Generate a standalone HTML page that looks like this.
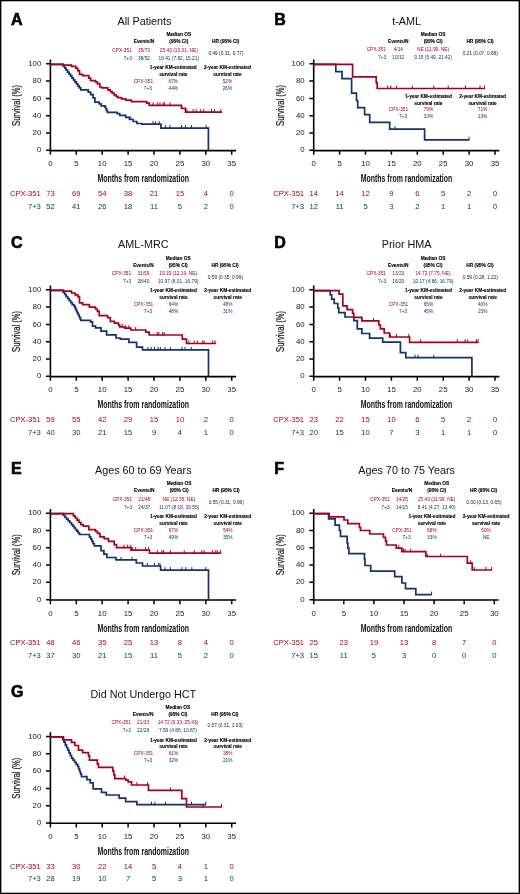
<!DOCTYPE html>
<html><head><meta charset="utf-8"><style>
html,body{margin:0;padding:0;background:#fff;}
body{width:520px;height:894px;overflow:hidden;position:relative;}
svg{position:absolute;left:0;top:0;will-change:transform;}
.frame{position:absolute;left:0;top:0;width:520px;height:894px;box-sizing:border-box;border:1px solid #000;box-shadow:inset 0 0 0 0.6px rgba(0,0,0,0.6);}
</style></head><body>
<svg width="520" height="894" viewBox="0 0 520 894" font-family='"Liberation Sans", sans-serif'>
<text x="10.90" y="24.70" font-size="16" text-anchor="start" fill="#000" font-weight="bold" stroke="#000" stroke-width="0.6">A</text>
<text x="144.50" y="24.80" font-size="10.8" text-anchor="middle" fill="#111" font-weight="normal" >All Patients</text>
<path d="M50.40 59.60 V151.10 M49.60 150.60 H236.10" stroke="#000" stroke-width="1.6" fill="none"/>
<text x="41.30" y="152.40" font-size="7.8" text-anchor="end" fill="#222" font-weight="normal" >0</text>
<text x="41.30" y="135.10" font-size="7.8" text-anchor="end" fill="#222" font-weight="normal" >20</text>
<text x="41.30" y="117.80" font-size="7.8" text-anchor="end" fill="#222" font-weight="normal" >40</text>
<text x="41.30" y="100.50" font-size="7.8" text-anchor="end" fill="#222" font-weight="normal" >60</text>
<text x="41.30" y="83.20" font-size="7.8" text-anchor="end" fill="#222" font-weight="normal" >80</text>
<text x="41.30" y="65.90" font-size="7.8" text-anchor="end" fill="#222" font-weight="normal" >100</text>
<text x="50.40" y="166.20" font-size="7.8" text-anchor="middle" fill="#222" font-weight="normal" >0</text>
<text x="76.30" y="166.20" font-size="7.8" text-anchor="middle" fill="#222" font-weight="normal" >5</text>
<text x="102.20" y="166.20" font-size="7.8" text-anchor="middle" fill="#222" font-weight="normal" >10</text>
<text x="128.10" y="166.20" font-size="7.8" text-anchor="middle" fill="#222" font-weight="normal" >15</text>
<text x="154.00" y="166.20" font-size="7.8" text-anchor="middle" fill="#222" font-weight="normal" >20</text>
<text x="179.90" y="166.20" font-size="7.8" text-anchor="middle" fill="#222" font-weight="normal" >25</text>
<text x="205.80" y="166.20" font-size="7.8" text-anchor="middle" fill="#222" font-weight="normal" >30</text>
<text x="231.70" y="166.20" font-size="7.8" text-anchor="middle" fill="#222" font-weight="normal" >35</text>
<path d="M46.00 150.30 H50.40 M46.00 133.00 H50.40 M46.00 115.70 H50.40 M46.00 98.40 H50.40 M46.00 81.10 H50.40 M46.00 63.80 H50.40 M50.40 150.60 V154.80 M76.30 150.60 V154.80 M102.20 150.60 V154.80 M128.10 150.60 V154.80 M154.00 150.60 V154.80 M179.90 150.60 V154.80 M205.80 150.60 V154.80 M231.70 150.60 V154.80 " stroke="#000" stroke-width="1.5" fill="none"/>
<g transform="translate(20.30 105.45) rotate(-90) scale(0.68 1)"><text x="0" y="0" font-size="11.2" text-anchor="middle" fill="#111" stroke="#111" stroke-width="0.18">Survival (%)</text></g>
<text x="143.20" y="182.30" font-size="11" font-weight="bold" text-anchor="middle" fill="#111" textLength="91.6" lengthAdjust="spacingAndGlyphs">Months from randomization</text>
<text x="40.80" y="195.80" font-size="7.6" text-anchor="end" fill="#a5001f" font-weight="normal" >CPX-351</text>
<text x="40.80" y="208.70" font-size="7.6" text-anchor="end" fill="#15316f" font-weight="normal" >7+3</text>
<text x="50.40" y="195.80" font-size="7.6" text-anchor="middle" fill="#a5001f" font-weight="normal" >73</text>
<text x="76.30" y="195.80" font-size="7.6" text-anchor="middle" fill="#a5001f" font-weight="normal" >69</text>
<text x="102.20" y="195.80" font-size="7.6" text-anchor="middle" fill="#a5001f" font-weight="normal" >54</text>
<text x="128.10" y="195.80" font-size="7.6" text-anchor="middle" fill="#a5001f" font-weight="normal" >38</text>
<text x="154.00" y="195.80" font-size="7.6" text-anchor="middle" fill="#a5001f" font-weight="normal" >21</text>
<text x="179.90" y="195.80" font-size="7.6" text-anchor="middle" fill="#a5001f" font-weight="normal" >15</text>
<text x="205.80" y="195.80" font-size="7.6" text-anchor="middle" fill="#a5001f" font-weight="normal" >4</text>
<text x="231.70" y="195.80" font-size="7.6" text-anchor="middle" fill="#a5001f" font-weight="normal" >0</text>
<text x="50.40" y="208.70" font-size="7.6" text-anchor="middle" fill="#15316f" font-weight="normal" >52</text>
<text x="76.30" y="208.70" font-size="7.6" text-anchor="middle" fill="#15316f" font-weight="normal" >41</text>
<text x="102.20" y="208.70" font-size="7.6" text-anchor="middle" fill="#15316f" font-weight="normal" >26</text>
<text x="128.10" y="208.70" font-size="7.6" text-anchor="middle" fill="#15316f" font-weight="normal" >18</text>
<text x="154.00" y="208.70" font-size="7.6" text-anchor="middle" fill="#15316f" font-weight="normal" >11</text>
<text x="179.90" y="208.70" font-size="7.6" text-anchor="middle" fill="#15316f" font-weight="normal" >5</text>
<text x="205.80" y="208.70" font-size="7.6" text-anchor="middle" fill="#15316f" font-weight="normal" >2</text>
<text x="231.70" y="208.70" font-size="7.6" text-anchor="middle" fill="#15316f" font-weight="normal" >0</text>
<text x="178.80" y="36.00" font-size="4.8" text-anchor="middle" fill="#000" font-weight="bold" stroke="#000" stroke-width="0.12">Median OS</text>
<text x="144.00" y="43.00" font-size="4.8" text-anchor="middle" fill="#000" font-weight="bold" stroke="#000" stroke-width="0.12">Events/N</text>
<text x="178.80" y="43.00" font-size="4.8" text-anchor="middle" fill="#000" font-weight="bold" stroke="#000" stroke-width="0.12">(95% CI)</text>
<text x="225.70" y="43.00" font-size="4.8" text-anchor="middle" fill="#000" font-weight="bold" stroke="#000" stroke-width="0.12">HR (95% CI)</text>
<text x="131.80" y="51.50" font-size="4.8" text-anchor="end" fill="#a5001f" font-weight="normal" >CPX-351</text>
<text x="131.80" y="59.60" font-size="4.8" text-anchor="end" fill="#15316f" font-weight="normal" >7+3</text>
<text x="144.00" y="51.50" font-size="4.8" text-anchor="middle" fill="#a5001f" font-weight="normal" >35/73</text>
<text x="144.00" y="59.60" font-size="4.8" text-anchor="middle" fill="#15316f" font-weight="normal" >38/52</text>
<text x="178.80" y="51.50" font-size="4.8" text-anchor="middle" fill="#a5001f" font-weight="normal" >25.43 (13.01, NE)</text>
<text x="178.80" y="59.60" font-size="4.8" text-anchor="middle" fill="#15316f" font-weight="normal" >10.41 (7.82, 15.21)</text>
<text x="226.00" y="54.80" font-size="4.8" text-anchor="middle" fill="#222" font-weight="normal" >0.49 (0.31, 0.77)</text>
<text x="173.30" y="69.00" font-size="4.8" text-anchor="middle" fill="#000" font-weight="bold" stroke="#000" stroke-width="0.12">1-year KM-estimated</text>
<text x="173.30" y="75.90" font-size="4.8" text-anchor="middle" fill="#000" font-weight="bold" stroke="#000" stroke-width="0.12">survival rate</text>
<text x="227.50" y="69.00" font-size="4.8" text-anchor="middle" fill="#000" font-weight="bold" stroke="#000" stroke-width="0.12">2-year KM-estimated</text>
<text x="227.50" y="75.90" font-size="4.8" text-anchor="middle" fill="#000" font-weight="bold" stroke="#000" stroke-width="0.12">survival rate</text>
<text x="153.10" y="82.80" font-size="4.8" text-anchor="end" fill="#a5001f" font-weight="normal" >CPX-351</text>
<text x="152.00" y="89.80" font-size="4.8" text-anchor="end" fill="#15316f" font-weight="normal" >7+3</text>
<text x="173.30" y="82.80" font-size="4.8" text-anchor="middle" fill="#a5001f" font-weight="normal" >67%</text>
<text x="173.30" y="89.80" font-size="4.8" text-anchor="middle" fill="#15316f" font-weight="normal" >44%</text>
<text x="227.50" y="82.80" font-size="4.8" text-anchor="middle" fill="#a5001f" font-weight="normal" >52%</text>
<text x="227.50" y="89.80" font-size="4.8" text-anchor="middle" fill="#15316f" font-weight="normal" >26%</text>
<path d="M50.40 64.30 H61.70 V64.30 H63.17 V66.26 H64.64 V68.22 H66.11 V70.18 H67.58 V72.15 H69.05 V74.11 H70.52 V76.07 H71.98 V78.03 H73.45 V79.99 H74.92 V81.95 H76.39 V83.92 H77.86 V85.88 H79.33 V87.84 H80.80 V89.80 H88.20 V92.20 H90.60 V94.70 H93.10 V97.80 H94.90 V102.10 H99.20 V103.90 H101.10 V105.80 H104.90 V106.90 H105.73 V108.73 H106.57 V110.57 H107.40 V112.40 H117.20 V113.60 H119.70 V115.40 H125.80 V117.30 H129.50 V119.50 H133.20 V121.50 H136.90 V123.50 H141.80 V124.20 H160.90 V128.10 H208.40 V150.70" stroke="#15316f" stroke-width="1.7" fill="none" stroke-linecap="butt"/>
<path d="M130.80 120.00 V116.50 M153.00 124.70 V121.20 M155.40 124.70 V121.20 M159.20 124.70 V121.20 M165.40 128.60 V125.10 M170.00 128.60 V125.10 M181.50 128.60 V125.10 M185.40 128.60 V125.10 M191.50 128.60 V125.10 M206.20 128.60 V125.10 " stroke="#15316f" stroke-width="1" fill="none"/>
<path d="M50.40 64.30 H63.50 V65.20 H71.50 V66.40 H75.80 V68.20 H77.70 V70.70 H79.50 V74.40 H82.60 V75.60 H88.80 V78.10 H90.60 V80.60 H95.50 V81.80 H97.30 V83.60 H99.80 V87.00 H101.70 V87.90 H107.80 V89.80 H110.30 V91.60 H112.20 V93.20 H114.10 V94.80 H116.00 V96.40 H117.80 V97.60 H121.50 V98.90 H125.80 V100.10 H131.40 V101.60 H146.80 V103.20 H149.20 V105.30 H181.50 V108.40 H185.50 V112.10 H222.00 V112.10" stroke="#a5001f" stroke-width="1.7" fill="none" stroke-linecap="butt"/>
<path d="M153.10 105.80 V102.30 M157.70 105.80 V102.30 M160.00 105.80 V102.30 M163.10 105.80 V102.30 M164.60 105.80 V102.30 M170.00 105.80 V102.30 M186.90 112.60 V109.10 M193.10 112.60 V109.10 M196.20 112.60 V109.10 M200.80 112.60 V109.10 M203.80 112.60 V109.10 M211.50 112.60 V109.10 M214.60 112.60 V109.10 M220.80 112.60 V109.10 " stroke="#a5001f" stroke-width="1" fill="none"/>
<text x="274.20" y="24.70" font-size="16" text-anchor="start" fill="#000" font-weight="bold" stroke="#000" stroke-width="0.6">B</text>
<text x="406.60" y="24.80" font-size="10.8" text-anchor="middle" fill="#111" font-weight="normal" >t-AML</text>
<path d="M313.70 59.60 V151.10 M312.90 150.60 H499.40" stroke="#000" stroke-width="1.6" fill="none"/>
<text x="304.60" y="152.40" font-size="7.8" text-anchor="end" fill="#222" font-weight="normal" >0</text>
<text x="304.60" y="135.10" font-size="7.8" text-anchor="end" fill="#222" font-weight="normal" >20</text>
<text x="304.60" y="117.80" font-size="7.8" text-anchor="end" fill="#222" font-weight="normal" >40</text>
<text x="304.60" y="100.50" font-size="7.8" text-anchor="end" fill="#222" font-weight="normal" >60</text>
<text x="304.60" y="83.20" font-size="7.8" text-anchor="end" fill="#222" font-weight="normal" >80</text>
<text x="304.60" y="65.90" font-size="7.8" text-anchor="end" fill="#222" font-weight="normal" >100</text>
<text x="313.70" y="166.20" font-size="7.8" text-anchor="middle" fill="#222" font-weight="normal" >0</text>
<text x="339.60" y="166.20" font-size="7.8" text-anchor="middle" fill="#222" font-weight="normal" >5</text>
<text x="365.50" y="166.20" font-size="7.8" text-anchor="middle" fill="#222" font-weight="normal" >10</text>
<text x="391.40" y="166.20" font-size="7.8" text-anchor="middle" fill="#222" font-weight="normal" >15</text>
<text x="417.30" y="166.20" font-size="7.8" text-anchor="middle" fill="#222" font-weight="normal" >20</text>
<text x="443.20" y="166.20" font-size="7.8" text-anchor="middle" fill="#222" font-weight="normal" >25</text>
<text x="469.10" y="166.20" font-size="7.8" text-anchor="middle" fill="#222" font-weight="normal" >30</text>
<text x="495.00" y="166.20" font-size="7.8" text-anchor="middle" fill="#222" font-weight="normal" >35</text>
<path d="M309.30 150.30 H313.70 M309.30 133.00 H313.70 M309.30 115.70 H313.70 M309.30 98.40 H313.70 M309.30 81.10 H313.70 M309.30 63.80 H313.70 M313.70 150.60 V154.80 M339.60 150.60 V154.80 M365.50 150.60 V154.80 M391.40 150.60 V154.80 M417.30 150.60 V154.80 M443.20 150.60 V154.80 M469.10 150.60 V154.80 M495.00 150.60 V154.80 " stroke="#000" stroke-width="1.5" fill="none"/>
<g transform="translate(283.60 105.45) rotate(-90) scale(0.68 1)"><text x="0" y="0" font-size="11.2" text-anchor="middle" fill="#111" stroke="#111" stroke-width="0.18">Survival (%)</text></g>
<text x="406.50" y="182.30" font-size="11" font-weight="bold" text-anchor="middle" fill="#111" textLength="91.6" lengthAdjust="spacingAndGlyphs">Months from randomization</text>
<text x="304.10" y="195.80" font-size="7.6" text-anchor="end" fill="#a5001f" font-weight="normal" >CPX-351</text>
<text x="304.10" y="208.70" font-size="7.6" text-anchor="end" fill="#15316f" font-weight="normal" >7+3</text>
<text x="313.70" y="195.80" font-size="7.6" text-anchor="middle" fill="#a5001f" font-weight="normal" >14</text>
<text x="339.60" y="195.80" font-size="7.6" text-anchor="middle" fill="#a5001f" font-weight="normal" >14</text>
<text x="365.50" y="195.80" font-size="7.6" text-anchor="middle" fill="#a5001f" font-weight="normal" >12</text>
<text x="391.40" y="195.80" font-size="7.6" text-anchor="middle" fill="#a5001f" font-weight="normal" >9</text>
<text x="417.30" y="195.80" font-size="7.6" text-anchor="middle" fill="#a5001f" font-weight="normal" >6</text>
<text x="443.20" y="195.80" font-size="7.6" text-anchor="middle" fill="#a5001f" font-weight="normal" >5</text>
<text x="469.10" y="195.80" font-size="7.6" text-anchor="middle" fill="#a5001f" font-weight="normal" >2</text>
<text x="495.00" y="195.80" font-size="7.6" text-anchor="middle" fill="#a5001f" font-weight="normal" >0</text>
<text x="313.70" y="208.70" font-size="7.6" text-anchor="middle" fill="#15316f" font-weight="normal" >12</text>
<text x="339.60" y="208.70" font-size="7.6" text-anchor="middle" fill="#15316f" font-weight="normal" >11</text>
<text x="365.50" y="208.70" font-size="7.6" text-anchor="middle" fill="#15316f" font-weight="normal" >5</text>
<text x="391.40" y="208.70" font-size="7.6" text-anchor="middle" fill="#15316f" font-weight="normal" >3</text>
<text x="417.30" y="208.70" font-size="7.6" text-anchor="middle" fill="#15316f" font-weight="normal" >2</text>
<text x="443.20" y="208.70" font-size="7.6" text-anchor="middle" fill="#15316f" font-weight="normal" >1</text>
<text x="469.10" y="208.70" font-size="7.6" text-anchor="middle" fill="#15316f" font-weight="normal" >1</text>
<text x="495.00" y="208.70" font-size="7.6" text-anchor="middle" fill="#15316f" font-weight="normal" >0</text>
<text x="433.10" y="35.70" font-size="4.8" text-anchor="middle" fill="#000" font-weight="bold" stroke="#000" stroke-width="0.12">Median OS</text>
<text x="398.30" y="42.70" font-size="4.8" text-anchor="middle" fill="#000" font-weight="bold" stroke="#000" stroke-width="0.12">Events/N</text>
<text x="433.10" y="42.70" font-size="4.8" text-anchor="middle" fill="#000" font-weight="bold" stroke="#000" stroke-width="0.12">(95% CI)</text>
<text x="480.00" y="42.70" font-size="4.8" text-anchor="middle" fill="#000" font-weight="bold" stroke="#000" stroke-width="0.12">HR (95% CI)</text>
<text x="386.10" y="51.20" font-size="4.8" text-anchor="end" fill="#a5001f" font-weight="normal" >CPX-351</text>
<text x="386.10" y="59.30" font-size="4.8" text-anchor="end" fill="#15316f" font-weight="normal" >7+3</text>
<text x="398.30" y="51.20" font-size="4.8" text-anchor="middle" fill="#a5001f" font-weight="normal" >4/14</text>
<text x="398.30" y="59.30" font-size="4.8" text-anchor="middle" fill="#15316f" font-weight="normal" >10/12</text>
<text x="433.10" y="51.20" font-size="4.8" text-anchor="middle" fill="#a5001f" font-weight="normal" >NE (11.99, NE)</text>
<text x="433.10" y="59.30" font-size="4.8" text-anchor="middle" fill="#15316f" font-weight="normal" >9.15 (5.49, 21.42)</text>
<text x="480.30" y="54.50" font-size="4.8" text-anchor="middle" fill="#222" font-weight="normal" >0.21 (0.07, 0.68)</text>
<text x="428.40" y="97.60" font-size="4.8" text-anchor="middle" fill="#000" font-weight="bold" stroke="#000" stroke-width="0.12">1-year KM-estimated</text>
<text x="428.40" y="104.50" font-size="4.8" text-anchor="middle" fill="#000" font-weight="bold" stroke="#000" stroke-width="0.12">survival rate</text>
<text x="482.60" y="97.60" font-size="4.8" text-anchor="middle" fill="#000" font-weight="bold" stroke="#000" stroke-width="0.12">2-year KM-estimated</text>
<text x="482.60" y="104.50" font-size="4.8" text-anchor="middle" fill="#000" font-weight="bold" stroke="#000" stroke-width="0.12">survival rate</text>
<text x="408.20" y="111.40" font-size="4.8" text-anchor="end" fill="#a5001f" font-weight="normal" >CPX-351</text>
<text x="407.10" y="118.40" font-size="4.8" text-anchor="end" fill="#15316f" font-weight="normal" >7+3</text>
<text x="428.40" y="111.40" font-size="4.8" text-anchor="middle" fill="#a5001f" font-weight="normal" >79%</text>
<text x="428.40" y="118.40" font-size="4.8" text-anchor="middle" fill="#15316f" font-weight="normal" >33%</text>
<text x="482.60" y="111.40" font-size="4.8" text-anchor="middle" fill="#a5001f" font-weight="normal" >71%</text>
<text x="482.60" y="118.40" font-size="4.8" text-anchor="middle" fill="#15316f" font-weight="normal" >13%</text>
<path d="M313.70 64.40 H335.80 V71.60 H342.00 V78.60 H351.60 V93.20 H356.50 V100.50 H357.70 V107.70 H364.60 V114.60 H369.70 V122.30 H389.70 V129.10 H424.60 V139.80 H469.20 V139.80" stroke="#15316f" stroke-width="1.7" fill="none" stroke-linecap="butt"/>
<path d="M394.90 129.60 V126.10 M469.00 140.30 V136.80 " stroke="#15316f" stroke-width="1" fill="none"/>
<path d="M313.70 64.40 H352.60 V76.80 H376.20 V82.70 H377.20 V88.50 H484.90 V88.50" stroke="#a5001f" stroke-width="1.7" fill="none" stroke-linecap="butt"/>
<path d="M387.70 89.00 V85.50 M390.80 89.00 V85.50 M396.60 89.00 V85.50 M412.30 89.00 V85.50 M433.80 89.00 V85.50 M448.20 89.00 V85.50 M465.40 89.00 V85.50 M480.00 89.00 V85.50 M484.60 89.00 V85.50 " stroke="#a5001f" stroke-width="1" fill="none"/>
<text x="10.90" y="248.30" font-size="16" text-anchor="start" fill="#000" font-weight="bold" stroke="#000" stroke-width="0.6">C</text>
<text x="143.30" y="248.40" font-size="10.8" text-anchor="middle" fill="#111" font-weight="normal" >AML-MRC</text>
<path d="M50.40 285.60 V377.10 M49.60 376.60 H236.10" stroke="#000" stroke-width="1.6" fill="none"/>
<text x="41.30" y="378.40" font-size="7.8" text-anchor="end" fill="#222" font-weight="normal" >0</text>
<text x="41.30" y="361.10" font-size="7.8" text-anchor="end" fill="#222" font-weight="normal" >20</text>
<text x="41.30" y="343.80" font-size="7.8" text-anchor="end" fill="#222" font-weight="normal" >40</text>
<text x="41.30" y="326.50" font-size="7.8" text-anchor="end" fill="#222" font-weight="normal" >60</text>
<text x="41.30" y="309.20" font-size="7.8" text-anchor="end" fill="#222" font-weight="normal" >80</text>
<text x="41.30" y="291.90" font-size="7.8" text-anchor="end" fill="#222" font-weight="normal" >100</text>
<text x="50.40" y="392.20" font-size="7.8" text-anchor="middle" fill="#222" font-weight="normal" >0</text>
<text x="76.30" y="392.20" font-size="7.8" text-anchor="middle" fill="#222" font-weight="normal" >5</text>
<text x="102.20" y="392.20" font-size="7.8" text-anchor="middle" fill="#222" font-weight="normal" >10</text>
<text x="128.10" y="392.20" font-size="7.8" text-anchor="middle" fill="#222" font-weight="normal" >15</text>
<text x="154.00" y="392.20" font-size="7.8" text-anchor="middle" fill="#222" font-weight="normal" >20</text>
<text x="179.90" y="392.20" font-size="7.8" text-anchor="middle" fill="#222" font-weight="normal" >25</text>
<text x="205.80" y="392.20" font-size="7.8" text-anchor="middle" fill="#222" font-weight="normal" >30</text>
<text x="231.70" y="392.20" font-size="7.8" text-anchor="middle" fill="#222" font-weight="normal" >35</text>
<path d="M46.00 376.30 H50.40 M46.00 359.00 H50.40 M46.00 341.70 H50.40 M46.00 324.40 H50.40 M46.00 307.10 H50.40 M46.00 289.80 H50.40 M50.40 376.60 V380.80 M76.30 376.60 V380.80 M102.20 376.60 V380.80 M128.10 376.60 V380.80 M154.00 376.60 V380.80 M179.90 376.60 V380.80 M205.80 376.60 V380.80 M231.70 376.60 V380.80 " stroke="#000" stroke-width="1.5" fill="none"/>
<g transform="translate(20.30 331.45) rotate(-90) scale(0.68 1)"><text x="0" y="0" font-size="11.2" text-anchor="middle" fill="#111" stroke="#111" stroke-width="0.18">Survival (%)</text></g>
<text x="143.20" y="408.30" font-size="11" font-weight="bold" text-anchor="middle" fill="#111" textLength="91.6" lengthAdjust="spacingAndGlyphs">Months from randomization</text>
<text x="40.80" y="421.80" font-size="7.6" text-anchor="end" fill="#a5001f" font-weight="normal" >CPX-351</text>
<text x="40.80" y="434.70" font-size="7.6" text-anchor="end" fill="#15316f" font-weight="normal" >7+3</text>
<text x="50.40" y="421.80" font-size="7.6" text-anchor="middle" fill="#a5001f" font-weight="normal" >59</text>
<text x="76.30" y="421.80" font-size="7.6" text-anchor="middle" fill="#a5001f" font-weight="normal" >55</text>
<text x="102.20" y="421.80" font-size="7.6" text-anchor="middle" fill="#a5001f" font-weight="normal" >42</text>
<text x="128.10" y="421.80" font-size="7.6" text-anchor="middle" fill="#a5001f" font-weight="normal" >29</text>
<text x="154.00" y="421.80" font-size="7.6" text-anchor="middle" fill="#a5001f" font-weight="normal" >15</text>
<text x="179.90" y="421.80" font-size="7.6" text-anchor="middle" fill="#a5001f" font-weight="normal" >10</text>
<text x="205.80" y="421.80" font-size="7.6" text-anchor="middle" fill="#a5001f" font-weight="normal" >2</text>
<text x="231.70" y="421.80" font-size="7.6" text-anchor="middle" fill="#a5001f" font-weight="normal" >0</text>
<text x="50.40" y="434.70" font-size="7.6" text-anchor="middle" fill="#15316f" font-weight="normal" >40</text>
<text x="76.30" y="434.70" font-size="7.6" text-anchor="middle" fill="#15316f" font-weight="normal" >30</text>
<text x="102.20" y="434.70" font-size="7.6" text-anchor="middle" fill="#15316f" font-weight="normal" >21</text>
<text x="128.10" y="434.70" font-size="7.6" text-anchor="middle" fill="#15316f" font-weight="normal" >15</text>
<text x="154.00" y="434.70" font-size="7.6" text-anchor="middle" fill="#15316f" font-weight="normal" >9</text>
<text x="179.90" y="434.70" font-size="7.6" text-anchor="middle" fill="#15316f" font-weight="normal" >4</text>
<text x="205.80" y="434.70" font-size="7.6" text-anchor="middle" fill="#15316f" font-weight="normal" >1</text>
<text x="231.70" y="434.70" font-size="7.6" text-anchor="middle" fill="#15316f" font-weight="normal" >0</text>
<text x="178.20" y="259.80" font-size="4.8" text-anchor="middle" fill="#000" font-weight="bold" stroke="#000" stroke-width="0.12">Median OS</text>
<text x="143.40" y="266.80" font-size="4.8" text-anchor="middle" fill="#000" font-weight="bold" stroke="#000" stroke-width="0.12">Events/N</text>
<text x="178.20" y="266.80" font-size="4.8" text-anchor="middle" fill="#000" font-weight="bold" stroke="#000" stroke-width="0.12">(95% CI)</text>
<text x="225.10" y="266.80" font-size="4.8" text-anchor="middle" fill="#000" font-weight="bold" stroke="#000" stroke-width="0.12">HR (95% CI)</text>
<text x="131.20" y="275.30" font-size="4.8" text-anchor="end" fill="#a5001f" font-weight="normal" >CPX-351</text>
<text x="131.20" y="283.40" font-size="4.8" text-anchor="end" fill="#15316f" font-weight="normal" >7+3</text>
<text x="143.40" y="275.30" font-size="4.8" text-anchor="middle" fill="#a5001f" font-weight="normal" >31/59</text>
<text x="143.40" y="283.40" font-size="4.8" text-anchor="middle" fill="#15316f" font-weight="normal" >28/40</text>
<text x="178.20" y="275.30" font-size="4.8" text-anchor="middle" fill="#a5001f" font-weight="normal" >19.15 (12.19, NE)</text>
<text x="178.20" y="283.40" font-size="4.8" text-anchor="middle" fill="#15316f" font-weight="normal" >10.97 (8.01, 16.79)</text>
<text x="225.40" y="278.60" font-size="4.8" text-anchor="middle" fill="#222" font-weight="normal" >0.59 (0.35, 0.99)</text>
<text x="173.50" y="292.00" font-size="4.8" text-anchor="middle" fill="#000" font-weight="bold" stroke="#000" stroke-width="0.12">1-year KM-estimated</text>
<text x="173.50" y="298.90" font-size="4.8" text-anchor="middle" fill="#000" font-weight="bold" stroke="#000" stroke-width="0.12">survival rate</text>
<text x="227.70" y="292.00" font-size="4.8" text-anchor="middle" fill="#000" font-weight="bold" stroke="#000" stroke-width="0.12">2-year KM-estimated</text>
<text x="227.70" y="298.90" font-size="4.8" text-anchor="middle" fill="#000" font-weight="bold" stroke="#000" stroke-width="0.12">survival rate</text>
<text x="153.30" y="305.80" font-size="4.8" text-anchor="end" fill="#a5001f" font-weight="normal" >CPX-351</text>
<text x="152.20" y="312.80" font-size="4.8" text-anchor="end" fill="#15316f" font-weight="normal" >7+3</text>
<text x="173.50" y="305.80" font-size="4.8" text-anchor="middle" fill="#a5001f" font-weight="normal" >64%</text>
<text x="173.50" y="312.80" font-size="4.8" text-anchor="middle" fill="#15316f" font-weight="normal" >48%</text>
<text x="227.70" y="305.80" font-size="4.8" text-anchor="middle" fill="#a5001f" font-weight="normal" >48%</text>
<text x="227.70" y="312.80" font-size="4.8" text-anchor="middle" fill="#15316f" font-weight="normal" >31%</text>
<path d="M50.40 290.40 H61.70 V290.40 H63.20 V292.44 H64.70 V294.49 H66.20 V296.53 H67.70 V298.57 H69.20 V300.61 H70.70 V302.66 H72.20 V304.70 H74.00 V305.90 H74.85 V307.71 H75.70 V309.52 H76.55 V311.34 H77.40 V313.15 H78.25 V314.96 H79.10 V316.77 H79.95 V318.59 H80.80 V320.40 H90.60 V321.90 H92.50 V326.20 H95.50 V327.90 H101.00 V331.20 H106.60 V334.90 H116.00 V338.00 H120.30 V339.20 H128.90 V342.30 H136.60 V347.20 H142.50 V349.90 H208.50 V376.60" stroke="#15316f" stroke-width="1.7" fill="none" stroke-linecap="butt"/>
<path d="M148.00 350.40 V346.90 M151.10 350.40 V346.90 M154.50 350.40 V346.90 M158.10 350.40 V346.90 M160.40 350.40 V346.90 M165.00 350.40 V346.90 M170.40 350.40 V346.90 M181.90 350.40 V346.90 M185.00 350.40 V346.90 M191.20 350.40 V346.90 " stroke="#15316f" stroke-width="1" fill="none"/>
<path d="M50.40 290.40 H63.50 V291.20 H71.50 V293.00 H75.20 V294.90 H77.70 V296.70 H79.50 V302.90 H82.60 V304.70 H89.40 V307.20 H95.50 V309.00 H97.40 V311.40 H99.20 V315.70 H107.60 V317.60 H110.30 V321.30 H114.40 V323.20 H118.50 V325.10 H119.70 V326.90 H124.60 V328.20 H130.80 V330.00 H145.80 V332.20 H149.20 V335.00 H182.30 V339.20 H186.50 V343.50 H215.80 V343.50" stroke="#a5001f" stroke-width="1.7" fill="none" stroke-linecap="butt"/>
<path d="M122.20 327.40 V323.90 M125.80 328.70 V325.20 M128.90 328.70 V325.20 M135.70 330.50 V327.00 M157.30 335.50 V332.00 M158.80 335.50 V332.00 M162.70 335.50 V332.00 M164.20 335.50 V332.00 M188.80 344.00 V340.50 M194.20 344.00 V340.50 M197.30 344.00 V340.50 M202.70 344.00 V340.50 M204.20 344.00 V340.50 M212.70 344.00 V340.50 M215.00 344.00 V340.50 " stroke="#a5001f" stroke-width="1" fill="none"/>
<text x="274.20" y="248.30" font-size="16" text-anchor="start" fill="#000" font-weight="bold" stroke="#000" stroke-width="0.6">D</text>
<text x="406.60" y="248.40" font-size="10.8" text-anchor="middle" fill="#111" font-weight="normal" >Prior HMA</text>
<path d="M313.70 285.60 V377.10 M312.90 376.60 H499.40" stroke="#000" stroke-width="1.6" fill="none"/>
<text x="304.60" y="378.40" font-size="7.8" text-anchor="end" fill="#222" font-weight="normal" >0</text>
<text x="304.60" y="361.10" font-size="7.8" text-anchor="end" fill="#222" font-weight="normal" >20</text>
<text x="304.60" y="343.80" font-size="7.8" text-anchor="end" fill="#222" font-weight="normal" >40</text>
<text x="304.60" y="326.50" font-size="7.8" text-anchor="end" fill="#222" font-weight="normal" >60</text>
<text x="304.60" y="309.20" font-size="7.8" text-anchor="end" fill="#222" font-weight="normal" >80</text>
<text x="304.60" y="291.90" font-size="7.8" text-anchor="end" fill="#222" font-weight="normal" >100</text>
<text x="313.70" y="392.20" font-size="7.8" text-anchor="middle" fill="#222" font-weight="normal" >0</text>
<text x="339.60" y="392.20" font-size="7.8" text-anchor="middle" fill="#222" font-weight="normal" >5</text>
<text x="365.50" y="392.20" font-size="7.8" text-anchor="middle" fill="#222" font-weight="normal" >10</text>
<text x="391.40" y="392.20" font-size="7.8" text-anchor="middle" fill="#222" font-weight="normal" >15</text>
<text x="417.30" y="392.20" font-size="7.8" text-anchor="middle" fill="#222" font-weight="normal" >20</text>
<text x="443.20" y="392.20" font-size="7.8" text-anchor="middle" fill="#222" font-weight="normal" >25</text>
<text x="469.10" y="392.20" font-size="7.8" text-anchor="middle" fill="#222" font-weight="normal" >30</text>
<text x="495.00" y="392.20" font-size="7.8" text-anchor="middle" fill="#222" font-weight="normal" >35</text>
<path d="M309.30 376.30 H313.70 M309.30 359.00 H313.70 M309.30 341.70 H313.70 M309.30 324.40 H313.70 M309.30 307.10 H313.70 M309.30 289.80 H313.70 M313.70 376.60 V380.80 M339.60 376.60 V380.80 M365.50 376.60 V380.80 M391.40 376.60 V380.80 M417.30 376.60 V380.80 M443.20 376.60 V380.80 M469.10 376.60 V380.80 M495.00 376.60 V380.80 " stroke="#000" stroke-width="1.5" fill="none"/>
<g transform="translate(283.60 331.45) rotate(-90) scale(0.68 1)"><text x="0" y="0" font-size="11.2" text-anchor="middle" fill="#111" stroke="#111" stroke-width="0.18">Survival (%)</text></g>
<text x="406.50" y="408.30" font-size="11" font-weight="bold" text-anchor="middle" fill="#111" textLength="91.6" lengthAdjust="spacingAndGlyphs">Months from randomization</text>
<text x="304.10" y="421.80" font-size="7.6" text-anchor="end" fill="#a5001f" font-weight="normal" >CPX-351</text>
<text x="304.10" y="434.70" font-size="7.6" text-anchor="end" fill="#15316f" font-weight="normal" >7+3</text>
<text x="313.70" y="421.80" font-size="7.6" text-anchor="middle" fill="#a5001f" font-weight="normal" >23</text>
<text x="339.60" y="421.80" font-size="7.6" text-anchor="middle" fill="#a5001f" font-weight="normal" >22</text>
<text x="365.50" y="421.80" font-size="7.6" text-anchor="middle" fill="#a5001f" font-weight="normal" >15</text>
<text x="391.40" y="421.80" font-size="7.6" text-anchor="middle" fill="#a5001f" font-weight="normal" >10</text>
<text x="417.30" y="421.80" font-size="7.6" text-anchor="middle" fill="#a5001f" font-weight="normal" >6</text>
<text x="443.20" y="421.80" font-size="7.6" text-anchor="middle" fill="#a5001f" font-weight="normal" >5</text>
<text x="469.10" y="421.80" font-size="7.6" text-anchor="middle" fill="#a5001f" font-weight="normal" >2</text>
<text x="495.00" y="421.80" font-size="7.6" text-anchor="middle" fill="#a5001f" font-weight="normal" >0</text>
<text x="313.70" y="434.70" font-size="7.6" text-anchor="middle" fill="#15316f" font-weight="normal" >20</text>
<text x="339.60" y="434.70" font-size="7.6" text-anchor="middle" fill="#15316f" font-weight="normal" >15</text>
<text x="365.50" y="434.70" font-size="7.6" text-anchor="middle" fill="#15316f" font-weight="normal" >10</text>
<text x="391.40" y="434.70" font-size="7.6" text-anchor="middle" fill="#15316f" font-weight="normal" >7</text>
<text x="417.30" y="434.70" font-size="7.6" text-anchor="middle" fill="#15316f" font-weight="normal" >3</text>
<text x="443.20" y="434.70" font-size="7.6" text-anchor="middle" fill="#15316f" font-weight="normal" >1</text>
<text x="469.10" y="434.70" font-size="7.6" text-anchor="middle" fill="#15316f" font-weight="normal" >1</text>
<text x="495.00" y="434.70" font-size="7.6" text-anchor="middle" fill="#15316f" font-weight="normal" >0</text>
<text x="433.05" y="259.80" font-size="4.8" text-anchor="middle" fill="#000" font-weight="bold" stroke="#000" stroke-width="0.12">Median OS</text>
<text x="398.25" y="266.80" font-size="4.8" text-anchor="middle" fill="#000" font-weight="bold" stroke="#000" stroke-width="0.12">Events/N</text>
<text x="433.05" y="266.80" font-size="4.8" text-anchor="middle" fill="#000" font-weight="bold" stroke="#000" stroke-width="0.12">(95% CI)</text>
<text x="479.95" y="266.80" font-size="4.8" text-anchor="middle" fill="#000" font-weight="bold" stroke="#000" stroke-width="0.12">HR (95% CI)</text>
<text x="386.05" y="275.30" font-size="4.8" text-anchor="end" fill="#a5001f" font-weight="normal" >CPX-351</text>
<text x="386.05" y="283.40" font-size="4.8" text-anchor="end" fill="#15316f" font-weight="normal" >7+3</text>
<text x="398.25" y="275.30" font-size="4.8" text-anchor="middle" fill="#a5001f" font-weight="normal" >13/23</text>
<text x="398.25" y="283.40" font-size="4.8" text-anchor="middle" fill="#15316f" font-weight="normal" >16/20</text>
<text x="433.05" y="275.30" font-size="4.8" text-anchor="middle" fill="#a5001f" font-weight="normal" >14.72 (7.75, NE)</text>
<text x="433.05" y="283.40" font-size="4.8" text-anchor="middle" fill="#15316f" font-weight="normal" >10.17 (4.86, 16.79)</text>
<text x="480.25" y="278.60" font-size="4.8" text-anchor="middle" fill="#222" font-weight="normal" >0.59 (0.28, 1.22)</text>
<text x="428.50" y="292.00" font-size="4.8" text-anchor="middle" fill="#000" font-weight="bold" stroke="#000" stroke-width="0.12">1-year KM-estimated</text>
<text x="428.50" y="298.90" font-size="4.8" text-anchor="middle" fill="#000" font-weight="bold" stroke="#000" stroke-width="0.12">survival rate</text>
<text x="482.70" y="292.00" font-size="4.8" text-anchor="middle" fill="#000" font-weight="bold" stroke="#000" stroke-width="0.12">2-year KM-estimated</text>
<text x="482.70" y="298.90" font-size="4.8" text-anchor="middle" fill="#000" font-weight="bold" stroke="#000" stroke-width="0.12">survival rate</text>
<text x="408.30" y="305.80" font-size="4.8" text-anchor="end" fill="#a5001f" font-weight="normal" >CPX-351</text>
<text x="407.20" y="312.80" font-size="4.8" text-anchor="end" fill="#15316f" font-weight="normal" >7+3</text>
<text x="428.50" y="305.80" font-size="4.8" text-anchor="middle" fill="#a5001f" font-weight="normal" >65%</text>
<text x="428.50" y="312.80" font-size="4.8" text-anchor="middle" fill="#15316f" font-weight="normal" >45%</text>
<text x="482.70" y="305.80" font-size="4.8" text-anchor="middle" fill="#a5001f" font-weight="normal" >40%</text>
<text x="482.70" y="312.80" font-size="4.8" text-anchor="middle" fill="#15316f" font-weight="normal" >23%</text>
<path d="M313.70 290.60 H330.20 V294.90 H331.70 V299.20 H334.20 V303.50 H337.80 V307.80 H338.80 V312.70 H345.00 V317.00 H353.80 V320.60 H357.30 V328.90 H361.90 V333.50 H369.60 V338.10 H382.70 V342.20 H400.40 V352.70 H405.80 V357.60 H471.90 V376.80" stroke="#15316f" stroke-width="1.7" fill="none" stroke-linecap="butt"/>
<path d="M415.00 358.10 V354.60 M418.10 358.10 V354.60 M433.80 358.10 V354.60 " stroke="#15316f" stroke-width="1" fill="none"/>
<path d="M313.70 290.60 H339.10 V294.20 H342.80 V305.90 H347.10 V309.60 H352.60 V313.30 H353.80 V317.40 H361.90 V320.90 H378.80 V325.00 H380.40 V328.90 H384.20 V333.00 H389.60 V337.00 H409.60 V342.30 H478.40 V342.30" stroke="#a5001f" stroke-width="1.7" fill="none" stroke-linecap="butt"/>
<path d="M373.50 321.40 V317.90 M390.40 337.50 V334.00 M396.50 337.50 V334.00 M408.80 337.50 V334.00 M420.60 342.80 V339.30 M457.30 342.80 V339.30 M465.00 342.80 V339.30 M467.30 342.80 V339.30 M476.50 342.80 V339.30 M478.10 342.80 V339.30 " stroke="#a5001f" stroke-width="1" fill="none"/>
<text x="10.90" y="474.05" font-size="16" text-anchor="start" fill="#000" font-weight="bold" stroke="#000" stroke-width="0.6">E</text>
<text x="143.30" y="474.15" font-size="10.8" text-anchor="middle" fill="#111" font-weight="normal" >Ages 60 to 69 Years</text>
<path d="M50.40 508.95 V600.45 M49.60 599.95 H236.10" stroke="#000" stroke-width="1.6" fill="none"/>
<text x="41.30" y="601.75" font-size="7.8" text-anchor="end" fill="#222" font-weight="normal" >0</text>
<text x="41.30" y="584.45" font-size="7.8" text-anchor="end" fill="#222" font-weight="normal" >20</text>
<text x="41.30" y="567.15" font-size="7.8" text-anchor="end" fill="#222" font-weight="normal" >40</text>
<text x="41.30" y="549.85" font-size="7.8" text-anchor="end" fill="#222" font-weight="normal" >60</text>
<text x="41.30" y="532.55" font-size="7.8" text-anchor="end" fill="#222" font-weight="normal" >80</text>
<text x="41.30" y="515.25" font-size="7.8" text-anchor="end" fill="#222" font-weight="normal" >100</text>
<text x="50.40" y="615.55" font-size="7.8" text-anchor="middle" fill="#222" font-weight="normal" >0</text>
<text x="76.30" y="615.55" font-size="7.8" text-anchor="middle" fill="#222" font-weight="normal" >5</text>
<text x="102.20" y="615.55" font-size="7.8" text-anchor="middle" fill="#222" font-weight="normal" >10</text>
<text x="128.10" y="615.55" font-size="7.8" text-anchor="middle" fill="#222" font-weight="normal" >15</text>
<text x="154.00" y="615.55" font-size="7.8" text-anchor="middle" fill="#222" font-weight="normal" >20</text>
<text x="179.90" y="615.55" font-size="7.8" text-anchor="middle" fill="#222" font-weight="normal" >25</text>
<text x="205.80" y="615.55" font-size="7.8" text-anchor="middle" fill="#222" font-weight="normal" >30</text>
<text x="231.70" y="615.55" font-size="7.8" text-anchor="middle" fill="#222" font-weight="normal" >35</text>
<path d="M46.00 599.65 H50.40 M46.00 582.35 H50.40 M46.00 565.05 H50.40 M46.00 547.75 H50.40 M46.00 530.45 H50.40 M46.00 513.15 H50.40 M50.40 599.95 V604.15 M76.30 599.95 V604.15 M102.20 599.95 V604.15 M128.10 599.95 V604.15 M154.00 599.95 V604.15 M179.90 599.95 V604.15 M205.80 599.95 V604.15 M231.70 599.95 V604.15 " stroke="#000" stroke-width="1.5" fill="none"/>
<g transform="translate(20.30 554.80) rotate(-90) scale(0.68 1)"><text x="0" y="0" font-size="11.2" text-anchor="middle" fill="#111" stroke="#111" stroke-width="0.18">Survival (%)</text></g>
<text x="143.20" y="631.65" font-size="11" font-weight="bold" text-anchor="middle" fill="#111" textLength="91.6" lengthAdjust="spacingAndGlyphs">Months from randomization</text>
<text x="40.80" y="645.15" font-size="7.6" text-anchor="end" fill="#a5001f" font-weight="normal" >CPX-351</text>
<text x="40.80" y="658.05" font-size="7.6" text-anchor="end" fill="#15316f" font-weight="normal" >7+3</text>
<text x="50.40" y="645.15" font-size="7.6" text-anchor="middle" fill="#a5001f" font-weight="normal" >48</text>
<text x="76.30" y="645.15" font-size="7.6" text-anchor="middle" fill="#a5001f" font-weight="normal" >46</text>
<text x="102.20" y="645.15" font-size="7.6" text-anchor="middle" fill="#a5001f" font-weight="normal" >35</text>
<text x="128.10" y="645.15" font-size="7.6" text-anchor="middle" fill="#a5001f" font-weight="normal" >25</text>
<text x="154.00" y="645.15" font-size="7.6" text-anchor="middle" fill="#a5001f" font-weight="normal" >13</text>
<text x="179.90" y="645.15" font-size="7.6" text-anchor="middle" fill="#a5001f" font-weight="normal" >8</text>
<text x="205.80" y="645.15" font-size="7.6" text-anchor="middle" fill="#a5001f" font-weight="normal" >4</text>
<text x="231.70" y="645.15" font-size="7.6" text-anchor="middle" fill="#a5001f" font-weight="normal" >0</text>
<text x="50.40" y="658.05" font-size="7.6" text-anchor="middle" fill="#15316f" font-weight="normal" >37</text>
<text x="76.30" y="658.05" font-size="7.6" text-anchor="middle" fill="#15316f" font-weight="normal" >30</text>
<text x="102.20" y="658.05" font-size="7.6" text-anchor="middle" fill="#15316f" font-weight="normal" >21</text>
<text x="128.10" y="658.05" font-size="7.6" text-anchor="middle" fill="#15316f" font-weight="normal" >15</text>
<text x="154.00" y="658.05" font-size="7.6" text-anchor="middle" fill="#15316f" font-weight="normal" >11</text>
<text x="179.90" y="658.05" font-size="7.6" text-anchor="middle" fill="#15316f" font-weight="normal" >5</text>
<text x="205.80" y="658.05" font-size="7.6" text-anchor="middle" fill="#15316f" font-weight="normal" >2</text>
<text x="231.70" y="658.05" font-size="7.6" text-anchor="middle" fill="#15316f" font-weight="normal" >0</text>
<text x="179.10" y="485.00" font-size="4.8" text-anchor="middle" fill="#000" font-weight="bold" stroke="#000" stroke-width="0.12">Median OS</text>
<text x="144.30" y="492.00" font-size="4.8" text-anchor="middle" fill="#000" font-weight="bold" stroke="#000" stroke-width="0.12">Events/N</text>
<text x="179.10" y="492.00" font-size="4.8" text-anchor="middle" fill="#000" font-weight="bold" stroke="#000" stroke-width="0.12">(95% CI)</text>
<text x="226.00" y="492.00" font-size="4.8" text-anchor="middle" fill="#000" font-weight="bold" stroke="#000" stroke-width="0.12">HR (95% CI)</text>
<text x="132.10" y="500.50" font-size="4.8" text-anchor="end" fill="#a5001f" font-weight="normal" >CPX-351</text>
<text x="132.10" y="508.60" font-size="4.8" text-anchor="end" fill="#15316f" font-weight="normal" >7+3</text>
<text x="144.30" y="500.50" font-size="4.8" text-anchor="middle" fill="#a5001f" font-weight="normal" >21/48</text>
<text x="144.30" y="508.60" font-size="4.8" text-anchor="middle" fill="#15316f" font-weight="normal" >24/37</text>
<text x="179.10" y="500.50" font-size="4.8" text-anchor="middle" fill="#a5001f" font-weight="normal" >NE (12.35, NE)</text>
<text x="179.10" y="508.60" font-size="4.8" text-anchor="middle" fill="#15316f" font-weight="normal" >11.07 (8.18, 30.55)</text>
<text x="226.30" y="503.80" font-size="4.8" text-anchor="middle" fill="#222" font-weight="normal" >0.55 (0.31, 0.99)</text>
<text x="173.50" y="517.70" font-size="4.8" text-anchor="middle" fill="#000" font-weight="bold" stroke="#000" stroke-width="0.12">1-year KM-estimated</text>
<text x="173.50" y="524.60" font-size="4.8" text-anchor="middle" fill="#000" font-weight="bold" stroke="#000" stroke-width="0.12">survival rate</text>
<text x="227.70" y="517.70" font-size="4.8" text-anchor="middle" fill="#000" font-weight="bold" stroke="#000" stroke-width="0.12">2-year KM-estimated</text>
<text x="227.70" y="524.60" font-size="4.8" text-anchor="middle" fill="#000" font-weight="bold" stroke="#000" stroke-width="0.12">survival rate</text>
<text x="153.30" y="531.50" font-size="4.8" text-anchor="end" fill="#a5001f" font-weight="normal" >CPX-351</text>
<text x="152.20" y="538.50" font-size="4.8" text-anchor="end" fill="#15316f" font-weight="normal" >7+3</text>
<text x="173.50" y="531.50" font-size="4.8" text-anchor="middle" fill="#a5001f" font-weight="normal" >67%</text>
<text x="173.50" y="538.50" font-size="4.8" text-anchor="middle" fill="#15316f" font-weight="normal" >49%</text>
<text x="227.70" y="531.50" font-size="4.8" text-anchor="middle" fill="#a5001f" font-weight="normal" >54%</text>
<text x="227.70" y="538.50" font-size="4.8" text-anchor="middle" fill="#15316f" font-weight="normal" >35%</text>
<path d="M50.40 513.60 H61.70 V513.60 H63.33 V515.43 H64.97 V517.27 H66.60 V519.10 H68.23 V520.93 H69.87 V522.77 H71.50 V524.60 H72.83 V526.25 H74.17 V527.90 H75.50 V529.55 H76.83 V531.20 H78.17 V532.85 H79.50 V534.50 H88.20 V534.50 H89.42 V536.78 H90.64 V539.06 H91.86 V541.34 H93.08 V543.62 H94.30 V545.90 H101.00 V550.60 H103.90 V554.05 H106.80 V557.50 H116.00 V559.90 H136.30 V563.00 H142.50 V566.00 H160.60 V570.10 H208.50 V600.00" stroke="#15316f" stroke-width="1.7" fill="none" stroke-linecap="butt"/>
<path d="M121.00 560.40 V556.90 M132.00 560.40 V556.90 M147.40 566.50 V563.00 M154.50 566.50 V563.00 M158.60 566.50 V563.00 M160.00 566.50 V563.00 M165.00 570.60 V567.10 M170.40 570.60 V567.10 M181.90 570.60 V567.10 M185.80 570.60 V567.10 M191.90 570.60 V567.10 M205.80 570.60 V567.10 " stroke="#15316f" stroke-width="1" fill="none"/>
<path d="M50.40 513.60 H71.50 V513.60 H73.36 V515.80 H75.22 V518.00 H77.08 V520.20 H78.94 V522.40 H80.80 V524.60 H83.20 V526.10 H88.80 V529.60 H95.50 V531.40 H97.50 V533.40 H100.00 V536.90 H104.20 V538.60 H108.50 V541.40 H114.20 V544.60 H116.50 V547.60 H131.00 V550.10 H149.50 V553.10 H221.20 V553.10" stroke="#a5001f" stroke-width="1.7" fill="none" stroke-linecap="butt"/>
<path d="M124.00 548.10 V544.60 M127.70 548.10 V544.60 M130.80 548.10 V544.60 M132.60 550.60 V547.10 M135.70 550.60 V547.10 M145.50 550.60 V547.10 M148.60 550.60 V547.10 M157.30 553.60 V550.10 M161.90 553.60 V550.10 M163.50 553.60 V550.10 M170.40 553.60 V550.10 M184.20 553.60 V550.10 M194.20 553.60 V550.10 M201.90 553.60 V550.10 M204.20 553.60 V550.10 M212.70 553.60 V550.10 M215.80 553.60 V550.10 M217.30 553.60 V550.10 M220.40 553.60 V550.10 " stroke="#a5001f" stroke-width="1" fill="none"/>
<text x="274.20" y="474.05" font-size="16" text-anchor="start" fill="#000" font-weight="bold" stroke="#000" stroke-width="0.6">F</text>
<text x="406.60" y="474.15" font-size="10.8" text-anchor="middle" fill="#111" font-weight="normal" >Ages 70 to 75 Years</text>
<path d="M313.70 508.95 V600.45 M312.90 599.95 H498.70" stroke="#000" stroke-width="1.6" fill="none"/>
<text x="304.60" y="601.75" font-size="7.8" text-anchor="end" fill="#222" font-weight="normal" >0</text>
<text x="304.60" y="584.45" font-size="7.8" text-anchor="end" fill="#222" font-weight="normal" >20</text>
<text x="304.60" y="567.15" font-size="7.8" text-anchor="end" fill="#222" font-weight="normal" >40</text>
<text x="304.60" y="549.85" font-size="7.8" text-anchor="end" fill="#222" font-weight="normal" >60</text>
<text x="304.60" y="532.55" font-size="7.8" text-anchor="end" fill="#222" font-weight="normal" >80</text>
<text x="304.60" y="515.25" font-size="7.8" text-anchor="end" fill="#222" font-weight="normal" >100</text>
<text x="313.70" y="615.55" font-size="7.8" text-anchor="middle" fill="#222" font-weight="normal" >0</text>
<text x="343.80" y="615.55" font-size="7.8" text-anchor="middle" fill="#222" font-weight="normal" >5</text>
<text x="373.90" y="615.55" font-size="7.8" text-anchor="middle" fill="#222" font-weight="normal" >10</text>
<text x="404.00" y="615.55" font-size="7.8" text-anchor="middle" fill="#222" font-weight="normal" >15</text>
<text x="434.10" y="615.55" font-size="7.8" text-anchor="middle" fill="#222" font-weight="normal" >20</text>
<text x="464.20" y="615.55" font-size="7.8" text-anchor="middle" fill="#222" font-weight="normal" >25</text>
<text x="494.30" y="615.55" font-size="7.8" text-anchor="middle" fill="#222" font-weight="normal" >30</text>
<path d="M309.30 599.65 H313.70 M309.30 582.35 H313.70 M309.30 565.05 H313.70 M309.30 547.75 H313.70 M309.30 530.45 H313.70 M309.30 513.15 H313.70 M313.70 599.95 V604.15 M343.80 599.95 V604.15 M373.90 599.95 V604.15 M404.00 599.95 V604.15 M434.10 599.95 V604.15 M464.20 599.95 V604.15 M494.30 599.95 V604.15 " stroke="#000" stroke-width="1.5" fill="none"/>
<g transform="translate(283.60 554.80) rotate(-90) scale(0.68 1)"><text x="0" y="0" font-size="11.2" text-anchor="middle" fill="#111" stroke="#111" stroke-width="0.18">Survival (%)</text></g>
<text x="406.50" y="631.65" font-size="11" font-weight="bold" text-anchor="middle" fill="#111" textLength="91.6" lengthAdjust="spacingAndGlyphs">Months from randomization</text>
<text x="304.10" y="645.15" font-size="7.6" text-anchor="end" fill="#a5001f" font-weight="normal" >CPX-351</text>
<text x="304.10" y="658.05" font-size="7.6" text-anchor="end" fill="#15316f" font-weight="normal" >7+3</text>
<text x="313.70" y="645.15" font-size="7.6" text-anchor="middle" fill="#a5001f" font-weight="normal" >25</text>
<text x="343.80" y="645.15" font-size="7.6" text-anchor="middle" fill="#a5001f" font-weight="normal" >23</text>
<text x="373.90" y="645.15" font-size="7.6" text-anchor="middle" fill="#a5001f" font-weight="normal" >19</text>
<text x="404.00" y="645.15" font-size="7.6" text-anchor="middle" fill="#a5001f" font-weight="normal" >13</text>
<text x="434.10" y="645.15" font-size="7.6" text-anchor="middle" fill="#a5001f" font-weight="normal" >8</text>
<text x="464.20" y="645.15" font-size="7.6" text-anchor="middle" fill="#a5001f" font-weight="normal" >7</text>
<text x="494.30" y="645.15" font-size="7.6" text-anchor="middle" fill="#a5001f" font-weight="normal" >0</text>
<text x="313.70" y="658.05" font-size="7.6" text-anchor="middle" fill="#15316f" font-weight="normal" >15</text>
<text x="343.80" y="658.05" font-size="7.6" text-anchor="middle" fill="#15316f" font-weight="normal" >11</text>
<text x="373.90" y="658.05" font-size="7.6" text-anchor="middle" fill="#15316f" font-weight="normal" >5</text>
<text x="404.00" y="658.05" font-size="7.6" text-anchor="middle" fill="#15316f" font-weight="normal" >3</text>
<text x="434.10" y="658.05" font-size="7.6" text-anchor="middle" fill="#15316f" font-weight="normal" >0</text>
<text x="464.20" y="658.05" font-size="7.6" text-anchor="middle" fill="#15316f" font-weight="normal" >0</text>
<text x="494.30" y="658.05" font-size="7.6" text-anchor="middle" fill="#15316f" font-weight="normal" >0</text>
<text x="436.70" y="485.35" font-size="4.8" text-anchor="middle" fill="#000" font-weight="bold" stroke="#000" stroke-width="0.12">Median OS</text>
<text x="401.90" y="492.35" font-size="4.8" text-anchor="middle" fill="#000" font-weight="bold" stroke="#000" stroke-width="0.12">Events/N</text>
<text x="436.70" y="492.35" font-size="4.8" text-anchor="middle" fill="#000" font-weight="bold" stroke="#000" stroke-width="0.12">(95% CI)</text>
<text x="483.60" y="492.35" font-size="4.8" text-anchor="middle" fill="#000" font-weight="bold" stroke="#000" stroke-width="0.12">HR (95% CI)</text>
<text x="389.70" y="500.85" font-size="4.8" text-anchor="end" fill="#a5001f" font-weight="normal" >CPX-351</text>
<text x="389.70" y="508.95" font-size="4.8" text-anchor="end" fill="#15316f" font-weight="normal" >7+3</text>
<text x="401.90" y="500.85" font-size="4.8" text-anchor="middle" fill="#a5001f" font-weight="normal" >14/25</text>
<text x="401.90" y="508.95" font-size="4.8" text-anchor="middle" fill="#15316f" font-weight="normal" >14/15</text>
<text x="436.70" y="500.85" font-size="4.8" text-anchor="middle" fill="#a5001f" font-weight="normal" >25.43 (11.99, NE)</text>
<text x="436.70" y="508.95" font-size="4.8" text-anchor="middle" fill="#15316f" font-weight="normal" >8.41 (4.27, 13.40)</text>
<text x="483.90" y="504.15" font-size="4.8" text-anchor="middle" fill="#222" font-weight="normal" >0.30 (0.13, 0.65)</text>
<text x="431.90" y="517.70" font-size="4.8" text-anchor="middle" fill="#000" font-weight="bold" stroke="#000" stroke-width="0.12">1-year KM-estimated</text>
<text x="431.90" y="524.60" font-size="4.8" text-anchor="middle" fill="#000" font-weight="bold" stroke="#000" stroke-width="0.12">survival rate</text>
<text x="486.10" y="517.70" font-size="4.8" text-anchor="middle" fill="#000" font-weight="bold" stroke="#000" stroke-width="0.12">2-year KM-estimated</text>
<text x="486.10" y="524.60" font-size="4.8" text-anchor="middle" fill="#000" font-weight="bold" stroke="#000" stroke-width="0.12">survival rate</text>
<text x="411.70" y="531.50" font-size="4.8" text-anchor="end" fill="#a5001f" font-weight="normal" >CPX-351</text>
<text x="410.60" y="538.50" font-size="4.8" text-anchor="end" fill="#15316f" font-weight="normal" >7+3</text>
<text x="431.90" y="531.50" font-size="4.8" text-anchor="middle" fill="#a5001f" font-weight="normal" >68%</text>
<text x="431.90" y="538.50" font-size="4.8" text-anchor="middle" fill="#15316f" font-weight="normal" >33%</text>
<text x="486.10" y="531.50" font-size="4.8" text-anchor="middle" fill="#a5001f" font-weight="normal" >50%</text>
<text x="486.10" y="538.50" font-size="4.8" text-anchor="middle" fill="#15316f" font-weight="normal" >NE</text>
<path d="M313.70 513.60 H328.60 V518.90 H335.10 V525.10 H339.40 V530.50 H340.50 V536.30 H347.10 V542.80 H347.80 V548.20 H348.90 V553.70 H364.50 V559.40 H365.00 V565.50 H370.70 V571.20 H394.70 V576.60 H401.90 V583.00 H405.50 V588.60 H415.80 V594.60 H431.60 V594.60" stroke="#15316f" stroke-width="1.7" fill="none" stroke-linecap="butt"/>
<path d="M431.60 595.10 V591.60 " stroke="#15316f" stroke-width="1" fill="none"/>
<path d="M313.70 513.60 H329.20 V516.90 H344.00 V520.00 H347.80 V523.60 H359.40 V527.40 H360.50 V530.50 H369.70 V534.00 H383.50 V537.40 H385.50 V540.90 H386.50 V545.00 H396.20 V548.10 H401.90 V551.70 H425.80 V556.50 H467.30 V563.10 H472.20 V570.00 H491.90 V570.00" stroke="#a5001f" stroke-width="1.7" fill="none" stroke-linecap="butt"/>
<path d="M398.80 548.60 V545.10 M403.50 552.20 V548.70 M405.00 552.20 V548.70 M410.70 552.20 V548.70 M427.30 557.00 V553.50 M440.40 557.00 V553.50 M470.70 563.60 V560.10 M474.20 570.50 V567.00 M485.80 570.50 V567.00 M491.60 570.50 V567.00 " stroke="#a5001f" stroke-width="1" fill="none"/>
<text x="10.90" y="697.40" font-size="16" text-anchor="start" fill="#000" font-weight="bold" stroke="#000" stroke-width="0.6">G</text>
<text x="143.30" y="697.50" font-size="10.8" text-anchor="middle" fill="#111" font-weight="normal" >Did Not Undergo HCT</text>
<path d="M50.40 732.30 V823.80 M49.60 823.30 H236.10" stroke="#000" stroke-width="1.6" fill="none"/>
<text x="41.30" y="825.10" font-size="7.8" text-anchor="end" fill="#222" font-weight="normal" >0</text>
<text x="41.30" y="807.80" font-size="7.8" text-anchor="end" fill="#222" font-weight="normal" >20</text>
<text x="41.30" y="790.50" font-size="7.8" text-anchor="end" fill="#222" font-weight="normal" >40</text>
<text x="41.30" y="773.20" font-size="7.8" text-anchor="end" fill="#222" font-weight="normal" >60</text>
<text x="41.30" y="755.90" font-size="7.8" text-anchor="end" fill="#222" font-weight="normal" >80</text>
<text x="41.30" y="738.60" font-size="7.8" text-anchor="end" fill="#222" font-weight="normal" >100</text>
<text x="50.40" y="838.90" font-size="7.8" text-anchor="middle" fill="#222" font-weight="normal" >0</text>
<text x="76.30" y="838.90" font-size="7.8" text-anchor="middle" fill="#222" font-weight="normal" >5</text>
<text x="102.20" y="838.90" font-size="7.8" text-anchor="middle" fill="#222" font-weight="normal" >10</text>
<text x="128.10" y="838.90" font-size="7.8" text-anchor="middle" fill="#222" font-weight="normal" >15</text>
<text x="154.00" y="838.90" font-size="7.8" text-anchor="middle" fill="#222" font-weight="normal" >20</text>
<text x="179.90" y="838.90" font-size="7.8" text-anchor="middle" fill="#222" font-weight="normal" >25</text>
<text x="205.80" y="838.90" font-size="7.8" text-anchor="middle" fill="#222" font-weight="normal" >30</text>
<text x="231.70" y="838.90" font-size="7.8" text-anchor="middle" fill="#222" font-weight="normal" >35</text>
<path d="M46.00 823.00 H50.40 M46.00 805.70 H50.40 M46.00 788.40 H50.40 M46.00 771.10 H50.40 M46.00 753.80 H50.40 M46.00 736.50 H50.40 M50.40 823.30 V827.50 M76.30 823.30 V827.50 M102.20 823.30 V827.50 M128.10 823.30 V827.50 M154.00 823.30 V827.50 M179.90 823.30 V827.50 M205.80 823.30 V827.50 M231.70 823.30 V827.50 " stroke="#000" stroke-width="1.5" fill="none"/>
<g transform="translate(20.30 778.15) rotate(-90) scale(0.68 1)"><text x="0" y="0" font-size="11.2" text-anchor="middle" fill="#111" stroke="#111" stroke-width="0.18">Survival (%)</text></g>
<text x="143.20" y="855.00" font-size="11" font-weight="bold" text-anchor="middle" fill="#111" textLength="91.6" lengthAdjust="spacingAndGlyphs">Months from randomization</text>
<text x="40.80" y="868.50" font-size="7.6" text-anchor="end" fill="#a5001f" font-weight="normal" >CPX-351</text>
<text x="40.80" y="881.40" font-size="7.6" text-anchor="end" fill="#15316f" font-weight="normal" >7+3</text>
<text x="50.40" y="868.50" font-size="7.6" text-anchor="middle" fill="#a5001f" font-weight="normal" >33</text>
<text x="76.30" y="868.50" font-size="7.6" text-anchor="middle" fill="#a5001f" font-weight="normal" >30</text>
<text x="102.20" y="868.50" font-size="7.6" text-anchor="middle" fill="#a5001f" font-weight="normal" >22</text>
<text x="128.10" y="868.50" font-size="7.6" text-anchor="middle" fill="#a5001f" font-weight="normal" >14</text>
<text x="154.00" y="868.50" font-size="7.6" text-anchor="middle" fill="#a5001f" font-weight="normal" >5</text>
<text x="179.90" y="868.50" font-size="7.6" text-anchor="middle" fill="#a5001f" font-weight="normal" >4</text>
<text x="205.80" y="868.50" font-size="7.6" text-anchor="middle" fill="#a5001f" font-weight="normal" >1</text>
<text x="231.70" y="868.50" font-size="7.6" text-anchor="middle" fill="#a5001f" font-weight="normal" >0</text>
<text x="50.40" y="881.40" font-size="7.6" text-anchor="middle" fill="#15316f" font-weight="normal" >28</text>
<text x="76.30" y="881.40" font-size="7.6" text-anchor="middle" fill="#15316f" font-weight="normal" >19</text>
<text x="102.20" y="881.40" font-size="7.6" text-anchor="middle" fill="#15316f" font-weight="normal" >10</text>
<text x="128.10" y="881.40" font-size="7.6" text-anchor="middle" fill="#15316f" font-weight="normal" >7</text>
<text x="154.00" y="881.40" font-size="7.6" text-anchor="middle" fill="#15316f" font-weight="normal" >5</text>
<text x="179.90" y="881.40" font-size="7.6" text-anchor="middle" fill="#15316f" font-weight="normal" >3</text>
<text x="205.80" y="881.40" font-size="7.6" text-anchor="middle" fill="#15316f" font-weight="normal" >1</text>
<text x="231.70" y="881.40" font-size="7.6" text-anchor="middle" fill="#15316f" font-weight="normal" >0</text>
<text x="177.90" y="708.50" font-size="4.8" text-anchor="middle" fill="#000" font-weight="bold" stroke="#000" stroke-width="0.12">Median OS</text>
<text x="143.10" y="715.50" font-size="4.8" text-anchor="middle" fill="#000" font-weight="bold" stroke="#000" stroke-width="0.12">Events/N</text>
<text x="177.90" y="715.50" font-size="4.8" text-anchor="middle" fill="#000" font-weight="bold" stroke="#000" stroke-width="0.12">(95% CI)</text>
<text x="224.80" y="715.50" font-size="4.8" text-anchor="middle" fill="#000" font-weight="bold" stroke="#000" stroke-width="0.12">HR (95% CI)</text>
<text x="130.90" y="724.00" font-size="4.8" text-anchor="end" fill="#a5001f" font-weight="normal" >CPX-351</text>
<text x="130.90" y="732.10" font-size="4.8" text-anchor="end" fill="#15316f" font-weight="normal" >7+3</text>
<text x="143.10" y="724.00" font-size="4.8" text-anchor="middle" fill="#a5001f" font-weight="normal" >21/33</text>
<text x="143.10" y="732.10" font-size="4.8" text-anchor="middle" fill="#15316f" font-weight="normal" >22/28</text>
<text x="177.90" y="724.00" font-size="4.8" text-anchor="middle" fill="#a5001f" font-weight="normal" >14.72 (9.33, 25.43)</text>
<text x="177.90" y="732.10" font-size="4.8" text-anchor="middle" fill="#15316f" font-weight="normal" >7.59 (4.86, 10.87)</text>
<text x="225.10" y="727.30" font-size="4.8" text-anchor="middle" fill="#222" font-weight="normal" >0.57 (0.31, 1.03)</text>
<text x="173.50" y="741.50" font-size="4.8" text-anchor="middle" fill="#000" font-weight="bold" stroke="#000" stroke-width="0.12">1-year KM-estimated</text>
<text x="173.50" y="748.40" font-size="4.8" text-anchor="middle" fill="#000" font-weight="bold" stroke="#000" stroke-width="0.12">survival rate</text>
<text x="227.70" y="741.50" font-size="4.8" text-anchor="middle" fill="#000" font-weight="bold" stroke="#000" stroke-width="0.12">2-year KM-estimated</text>
<text x="227.70" y="748.40" font-size="4.8" text-anchor="middle" fill="#000" font-weight="bold" stroke="#000" stroke-width="0.12">survival rate</text>
<text x="153.30" y="755.30" font-size="4.8" text-anchor="end" fill="#a5001f" font-weight="normal" >CPX-351</text>
<text x="152.20" y="762.30" font-size="4.8" text-anchor="end" fill="#15316f" font-weight="normal" >7+3</text>
<text x="173.50" y="755.30" font-size="4.8" text-anchor="middle" fill="#a5001f" font-weight="normal" >61%</text>
<text x="173.50" y="762.30" font-size="4.8" text-anchor="middle" fill="#15316f" font-weight="normal" >32%</text>
<text x="227.70" y="755.30" font-size="4.8" text-anchor="middle" fill="#a5001f" font-weight="normal" >38%</text>
<text x="227.70" y="762.30" font-size="4.8" text-anchor="middle" fill="#15316f" font-weight="normal" >21%</text>
<path d="M50.40 736.90 H61.50 V736.90 H62.75 V739.55 H64.00 V742.20 H65.25 V744.85 H66.50 V747.50 H67.75 V750.15 H69.00 V752.80 H70.25 V755.45 H71.50 V758.10 H73.05 V760.17 H74.60 V762.25 H76.15 V764.33 H77.70 V766.40 H78.65 V768.95 H79.60 V771.50 H80.55 V774.05 H81.50 V776.60 H86.90 V779.60 H90.30 V782.90 H93.10 V788.90 H101.50 V792.40 H106.20 V795.00 H119.20 V798.10 H125.70 V801.60 H136.90 V804.70 H205.80 V804.70" stroke="#15316f" stroke-width="1.7" fill="none" stroke-linecap="butt"/>
<path d="M151.50 805.20 V801.70 M154.90 805.20 V801.70 M165.40 805.20 V801.70 M191.50 805.20 V801.70 M205.80 805.20 V801.70 " stroke="#15316f" stroke-width="1" fill="none"/>
<path d="M50.40 736.90 H63.50 V739.90 H71.50 V742.40 H74.90 V745.50 H78.50 V750.10 H82.60 V752.70 H88.50 V755.80 H89.50 V760.20 H97.30 V763.90 H98.50 V767.30 H112.80 V770.90 H113.80 V774.90 H114.80 V778.60 H125.70 V780.10 H128.20 V781.90 H131.50 V785.00 H148.50 V790.40 H181.80 V798.60 H186.50 V807.00 H221.50 V807.00" stroke="#a5001f" stroke-width="1.7" fill="none" stroke-linecap="butt"/>
<path d="M124.60 779.10 V775.60 M136.90 785.50 V782.00 M147.70 785.50 V782.00 M170.50 790.90 V787.40 M203.10 807.50 V804.00 M221.50 807.50 V804.00 " stroke="#a5001f" stroke-width="1" fill="none"/>
</svg>
<div class="frame"></div>
</body></html>
